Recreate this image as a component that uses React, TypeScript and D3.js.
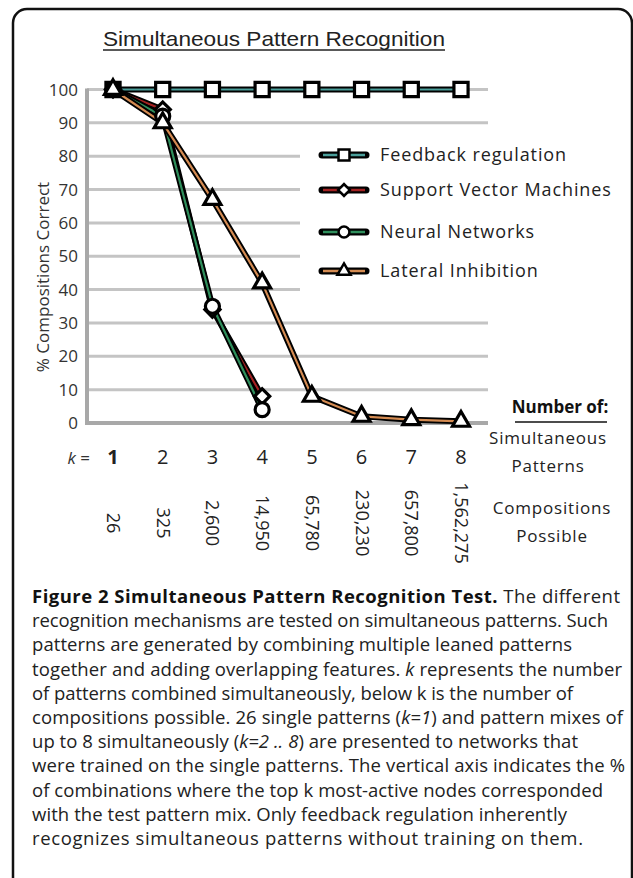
import React from "react";
import * as d3 from "d3";

const W = 633;
const H = 878;

// k values along the x axis
const kValues = [1, 2, 3, 4, 5, 6, 7, 8];
const compositions = ["26", "325", "2,600", "14,950", "65,780", "230,230", "657,800", "1,562,275"];
const yTicks = [0, 10, 20, 30, 40, 50, 60, 70, 80, 90, 100];

// % compositions correct
const feedbackValues = [100, 100, 100, 100, 100, 100, 100, 100];
const svmValues = [100, 94, 34, 8];
const neuralValues = [100, 92, 35, 4];
const lateralValues = [100, 90, 67, 42, 8, 2, 1, 0.5];

const seriesNames = ["Feedback regulation", "Support Vector Machines", "Neural Networks", "Lateral Inhibition"];

const captionLines = [
  [{ t: "Figure 2 Simultaneous Pattern Recognition Test.", b: true }, { t: " The different" }],
  [{ t: "recognition mechanisms are tested on simultaneous patterns. Such" }],
  [{ t: "patterns are generated by combining multiple leaned patterns" }],
  [{ t: "together and adding overlapping features. " }, { t: "k", i: true }, { t: " represents the number" }],
  [{ t: "of patterns combined simultaneously, below k is the number of" }],
  [{ t: "compositions possible. 26 single patterns (" }, { t: "k=1", i: true }, { t: ") and pattern mixes of" }],
  [{ t: "up to 8 simultaneously (" }, { t: "k=2 .. 8", i: true }, { t: ") are presented to networks that" }],
  [{ t: "were trained on the single patterns. The vertical axis indicates the %" }],
  [{ t: "of combinations where the top k most-active nodes corresponded" }],
  [{ t: "with the test pattern mix. Only feedback regulation inherently" }],
  [{ t: "recognizes simultaneous patterns without training on them." }],
];
// right end (px) of each caption line in the figure
const captionEnds = [620, 608, 572, 622, 573, 623, 578, 625, 603, 567, 583];

const FONT = "'Open Sans', 'DejaVu Sans', sans-serif";

export default function App() {
  const x = d3.scalePoint<number>().domain(kValues).range([113, 461]);
  const y = d3.scaleLinear().domain([0, 100]).range([423, 89.5]);
  const gridX0 = 87;
  const gridX1 = 488;

  const line = d3
    .line<number>()
    .x((d, i) => x(kValues[i]) as number)
    .y((d) => y(d));

  const series = [
    { name: seriesNames[0], values: feedbackValues, color: "#4a9e9a", type: d3.symbolSquare, size: 200, rot: 0 },
    { name: seriesNames[1], values: svmValues, color: "#a32222", type: d3.symbolSquare, size: 115, rot: 45 },
    { name: seriesNames[2], values: neuralValues, color: "#2f8f5c", type: d3.symbolCircle, size: 155, rot: 0 },
    { name: seriesNames[3], values: lateralValues, color: "#d48b52", type: d3.symbolTriangle, size: 125, rot: 0 },
  ];

  const legendRows = [155, 190, 232, 271];
  const captionX = 32;

  return (
    <svg width={W} height={H} style={{ position: "absolute", left: 0, top: 0, background: "#fff" }} fontFamily={FONT}>
      {/* frame */}
      <rect x={13} y={9} width={619} height={920} rx={14} fill="none" stroke="#111" strokeWidth={2.5} />

      {/* title */}
      <text x={274} y={46} textAnchor="middle" fontFamily="'Liberation Sans', Arial, sans-serif" fontSize={21} fill="#222" textLength={342} lengthAdjust="spacingAndGlyphs">
        Simultaneous Pattern Recognition
      </text>
      <line x1={103} x2={445} y1={50} y2={50} stroke="#222" strokeWidth={1.3} />

      {/* grid */}
      {yTicks.filter((t) => t > 0).map((t) => (
        <line key={t} x1={gridX0} x2={gridX1} y1={y(t)} y2={y(t)} stroke="#c4c4c4" strokeWidth={3} />
      ))}
      {/* legend box hides the grid */}
      <rect x={300} y={138} width={195} height={164} fill="#fff" />

      {/* axes */}
      <line x1={gridX0} x2={gridX0} y1={y(100) - 1} y2={y(0)} stroke="#a8a8a8" strokeWidth={4} />
      <line x1={gridX0 - 2} x2={gridX1} y1={y(0)} y2={y(0)} stroke="#a8a8a8" strokeWidth={4} />
      {yTicks.map((t) => (
        <text key={t} x={78} y={y(t) + 6} textAnchor="end" fontSize={17} fill="#333">
          {t}
        </text>
      ))}
      <text transform={`translate(49,277) rotate(-90)`} textAnchor="middle" fontSize={17} fill="#333">
        % Compositions Correct
      </text>

      {/* series lines */}
      {series.map((s) => (
        <g key={s.name}>
          <path d={line(s.values) || ""} fill="none" stroke="#000" strokeWidth={6} strokeLinejoin="round" />
          <path d={line(s.values) || ""} fill="none" stroke={s.color} strokeWidth={2.2} strokeLinejoin="round" />
        </g>
      ))}
      {/* markers */}
      {series.map((s) => (
        <g key={s.name + "-m"}>
          {s.values.map((v, i) => (
            <path
              key={i}
              d={d3.symbol().type(s.type).size(s.size)() || ""}
              transform={`translate(${x(kValues[i])},${y(v)}) rotate(${s.rot})`}
              fill="#fff"
              stroke="#000"
              strokeWidth={3.2}
            />
          ))}
        </g>
      ))}

      {/* legend */}
      {series.map((s, i) => (
        <g key={s.name + "-l"} transform={`translate(0,${legendRows[i]})`}>
          <line x1={322} x2={366} y1={0} y2={0} stroke="#000" strokeWidth={7} strokeLinecap="round" />
          <line x1={323} x2={365} y1={0} y2={0} stroke={s.color} strokeWidth={2.5} />
          <path
            d={d3.symbol().type(s.type).size(s.size * 0.6)() || ""}
            transform={`translate(344,0) rotate(${s.rot})`}
            fill="#fff"
            stroke="#000"
            strokeWidth={2.5}
          />
          <text x={380} y={6} fontSize={18} fill="#222" letterSpacing={0.9}>
            {s.name}
          </text>
        </g>
      ))}

      {/* k row */}
      <text x={90} y={464} textAnchor="end" fontSize={17} fill="#333">
        <tspan fontStyle="italic">k</tspan> =
      </text>
      {kValues.map((k, i) => (
        <text key={k} x={x(k)} y={464} textAnchor="middle" fontSize={20} fontWeight={i === 0 ? 700 : 400} fill="#222">
          {k}
        </text>
      ))}
      {compositions.map((c, i) => (
        <text key={c} transform={`translate(${(x(kValues[i]) as number) - 6},523) rotate(90)`} textAnchor="middle" fontSize={18} fill="#222">
          {c}
        </text>
      ))}

      {/* right side notes */}
      <text x={560} y={413} textAnchor="middle" fontSize={17} fontWeight={700} fill="#111">
        Number of:
      </text>
      <line x1={515} x2={607} y1={422} y2={422} stroke="#111" strokeWidth={1.5} />
      <text x={548} y={444} textAnchor="middle" fontSize={17} fill="#222" letterSpacing={0.8}>
        Simultaneous
      </text>
      <text x={548} y={472} textAnchor="middle" fontSize={17} fill="#222" letterSpacing={0.8}>
        Patterns
      </text>
      <text x={552} y={514} textAnchor="middle" fontSize={17} fill="#222" letterSpacing={0.8}>
        Compositions
      </text>
      <text x={552} y={542} textAnchor="middle" fontSize={17} fill="#222" letterSpacing={0.8}>
        Possible
      </text>

      {/* caption */}
      {captionLines.map((segs, li) => (
        <text
          key={li}
          x={captionX}
          y={603 + li * 24.2}
          fontSize={18.5}
          fill="#222"
          textLength={captionEnds[li] - captionX}
          lengthAdjust="spacing"
        >
          {segs.map((s: any, si) => (
            <tspan key={si} fontWeight={s.b ? 700 : 400} fontStyle={s.i ? "italic" : "normal"} fill={s.b ? "#111" : "#222"}>
              {s.t}
            </tspan>
          ))}
        </text>
      ))}
    </svg>
  );
}
